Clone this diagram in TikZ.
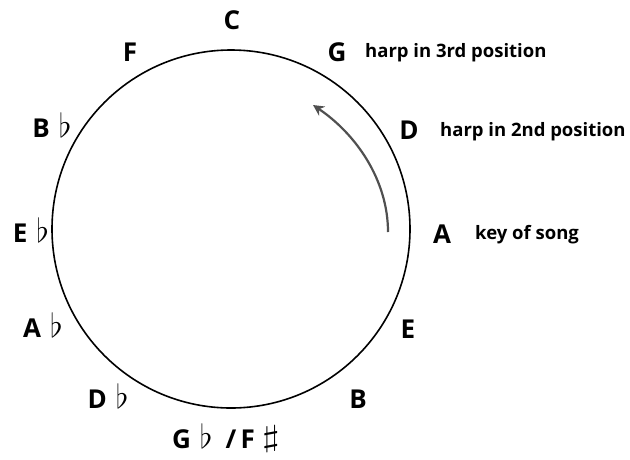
\documentclass[tikz,border=0pt]{standalone}
\usepackage{graphicx}
\usepackage{fontspec}
\setmainfont{Open Sans}
\usetikzlibrary{arrows.meta}
\definecolor{cArrow}{RGB}{80,80,80}
\newcommand{\flt}{\hspace{9pt}\scalebox{1.33}{$\flat$}}
\newcommand{\shp}{\hspace{7pt}\raisebox{2pt}{\scalebox{1.9}[1.2]{$\sharp$}}}

\begin{document}
\begin{tikzpicture}[
  x=1pt, y=-1pt,
  key/.style={font=\fontsize{26}{30}\selectfont\bfseries, anchor=base, inner sep=0pt},
  note/.style={font=\fontsize{18.5}{21}\selectfont\bfseries, anchor=base west, inner sep=0pt},
  turn/.style={-{Stealth[length=11pt,width=11pt]}, line width=2.2pt, color=cArrow}
]
\useasboundingbox (0,0) rectangle (630,459);

%% the wheel
\node[draw, circle, line width=1.6pt, minimum size=358pt, inner sep=0pt]
  (wheel) at (231,229) {};

%% keys round the wheel
\node[key] (kC)  at (232,29)  {C};
\node[key] (kG)  at (337,61)  {G};
\node[key] (kD)  at (409,139) {D};
\node[key] (kA)  at (442,243) {A};
\node[key] (kE)  at (408,338) {E};
\node[key] (kB)  at (358,408) {B};
\node[key] (kGb) at (226,448) {G\flt\hspace{13pt}/\,F\shp};
\node[key] (kDb) at (108,408) {D\flt};
\node[key] (kAb) at (43,337)  {A\flt};
\node[key] (kEb) at (31,242)  {E\flt};
\node[key] (kBb) at (52,137)  {B\flt};
\node[key] (kF)  at (130,61)  {F};

%% notes
\node[note] (n3) at (365,57)  {harp in 3rd position};
\node[note] (n2) at (440,136) {harp in 2nd position};
\node[note] (ns) at (475,239) {key of song};

%% arrow from key of song to 3rd position
\coordinate (song) at (388,232);
\coordinate (third) at (313,105);
\draw[turn] (song) .. controls (388,180) and (356,134) .. (third);

\end{tikzpicture}
\end{document}
